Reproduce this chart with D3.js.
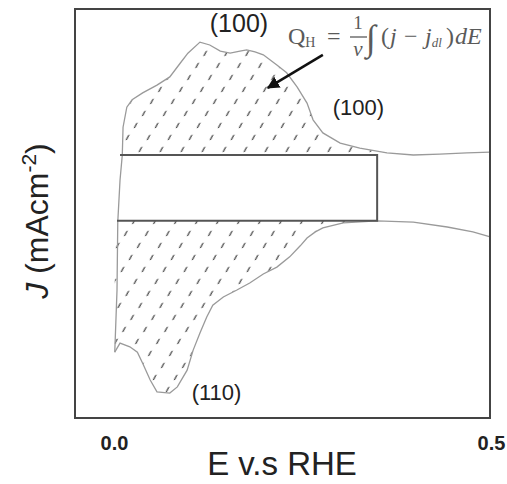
<!DOCTYPE html>
<html>
<head>
<meta charset="utf-8">
<title>CV - hydrogen region</title>
<script src="https://d3js.org/d3.v7.min.js"></script>
<style>
  body { margin:0; background:#fff; }
  text { font-family: "Liberation Sans", Arial, sans-serif; }
  .formula text { font-family: "Liberation Serif", "Times New Roman", serif; fill:#5a5a5a; }
</style>
</head>
<body>
<svg id="cv" width="507" height="484"></svg>
<script>
// anodic sweep (E in V vs RHE, J arbitrary)
const E_anodic = [0.001,0.004,0.005,0.008,0.011,0.012,0.017,0.024,0.038,0.057,0.074,0.088,0.098,0.114,0.127,0.141,0.154,0.167,0.176,0.187,0.198,0.216,0.229,0.243,0.256,0.264,0.277,0.300,0.326,0.362,0.397,0.432,0.468,0.499];
const J_anodic = [-0.339,-0.187,-0.021,0.082,0.143,0.211,0.260,0.278,0.295,0.314,0.334,0.368,0.392,0.419,0.412,0.397,0.392,0.397,0.400,0.395,0.388,0.363,0.344,0.309,0.270,0.229,0.197,0.172,0.160,0.148,0.143,0.145,0.148,0.150];

// cathodic sweep
const E_cathodic = [0.001,0.008,0.021,0.031,0.038,0.048,0.057,0.074,0.084,0.097,0.105,0.114,0.123,0.131,0.145,0.163,0.180,0.198,0.216,0.233,0.247,0.256,0.267,0.277,0.304,0.349,0.397,0.442,0.476,0.499];
const J_cathodic = [-0.339,-0.317,-0.326,-0.339,-0.366,-0.407,-0.436,-0.439,-0.424,-0.383,-0.334,-0.292,-0.253,-0.224,-0.204,-0.187,-0.170,-0.148,-0.131,-0.106,-0.079,-0.060,-0.045,-0.035,-0.023,-0.018,-0.021,-0.033,-0.045,-0.057];

// double layer box
const dlE = [0.008, 0.349];
const dlJ = [0.143, -0.018];

const xTicks = [0.0, 0.5];
const peakLabels = ['(100)', '(100)', '(110)'];

const anodic = E_anodic.map((e, i) => ({E: e, J: J_anodic[i]}));
const cathodic = E_cathodic.map((e, i) => ({E: e, J: J_cathodic[i]}));

const svg = d3.select('#cv');
const frame = {left: 75, top: 9, right: 490, bottom: 418};

const x = d3.scaleLinear().domain([0, 0.5]).range([114, 491]);
const y = d3.scaleLinear().domain([-0.5, 0.5]).range([frame.bottom, frame.top]);

const defs = svg.append('defs');
// short slanted dashes on a skewed lattice
defs.append('pattern')
  .attr('id', 'hatch')
  .attr('width', 21).attr('height', 12)
  .attr('patternUnits', 'userSpaceOnUse')
  .attr('patternTransform', 'skewX(-34)')
  .append('line')
  .attr('x1', 10.6).attr('y1', 7.5)
  .attr('x2', 10.0).attr('y2', 3.5)
  .attr('stroke', '#555').attr('stroke-width', 1.5).attr('stroke-linecap', 'round');

defs.append('clipPath').attr('id', 'dlclip')
  .append('rect')
  .attr('x', x(0) - 5).attr('y', frame.top)
  .attr('width', x(dlE[1]) - x(0) + 5).attr('height', frame.bottom - frame.top);

defs.append('marker')
  .attr('id', 'arrow')
  .attr('viewBox', '0 0 10 10')
  .attr('refX', 9).attr('refY', 5)
  .attr('markerWidth', 5).attr('markerHeight', 5)
  .attr('orient', 'auto')
  .append('path').attr('d', 'M0,0L10,5L0,10z').attr('fill', '#111');

// hatched charge areas
const upperArea = d3.area()
  .x(d => x(d.E))
  .y0(y(dlJ[0]))
  .y1(d => y(Math.max(d.J, dlJ[0])));
const lowerArea = d3.area()
  .x(d => x(d.E))
  .y0(y(dlJ[1]))
  .y1(d => y(Math.min(d.J, dlJ[1])));

const hatchG = svg.append('g').attr('clip-path', 'url(#dlclip)');
hatchG.append('path').attr('d', upperArea(anodic)).attr('fill', 'url(#hatch)');
hatchG.append('path').attr('d', lowerArea(cathodic)).attr('fill', 'url(#hatch)');

// the voltammogram
const line = d3.line().x(d => x(d.E)).y(d => y(d.J));
[anodic, cathodic].forEach(s => {
  svg.append('path')
    .attr('d', line(s))
    .attr('fill', 'none')
    .attr('stroke', '#9a9a9a')
    .attr('stroke-width', 1.3);
});

// double layer rectangle (top, right, bottom)
svg.append('path')
  .attr('d', `M${x(dlE[0])},${y(dlJ[0])}H${x(dlE[1])}V${y(dlJ[1])}H${x(0.004)}`)
  .attr('fill', 'none')
  .attr('stroke', '#555')
  .attr('stroke-width', 2);

// frame
svg.append('rect')
  .attr('x', frame.left).attr('y', frame.top)
  .attr('width', frame.right - frame.left)
  .attr('height', frame.bottom - frame.top)
  .attr('fill', 'none')
  .attr('stroke', '#444')
  .attr('stroke-width', 2);

// x axis ticks only
const xAxis = svg.append('g')
  .attr('transform', `translate(0,${frame.bottom})`)
  .call(d3.axisBottom(x).tickValues(xTicks).tickFormat(d3.format('.1f')).tickSize(0).tickPadding(18));
xAxis.select('.domain').remove();
xAxis.selectAll('text')
  .attr('font-size', 20)
  .attr('font-weight', 'bold')
  .attr('font-family', '"Liberation Sans", Arial, sans-serif')
  .attr('fill', '#222');

svg.append('text')
  .attr('x', 282).attr('y', 475)
  .attr('text-anchor', 'middle')
  .attr('font-size', 33)
  .attr('fill', '#222')
  .text('E v.s RHE');

const yt = svg.append('text')
  .attr('transform', 'translate(48,221) rotate(-90)')
  .attr('text-anchor', 'middle')
  .attr('font-size', 32)
  .attr('fill', '#222');
yt.append('tspan').attr('font-style', 'italic').text('J');
yt.append('tspan').text(' (mAcm');
yt.append('tspan').attr('font-size', 21).attr('dy', -12).text('-2');
yt.append('tspan').attr('dy', 12).text(')');

// peak labels
const labelPos = [[0.127, 0.444, 25], [0.290, 0.242, 22], [0.103, -0.457, 22]];
svg.selectAll('.peak')
  .data(peakLabels)
  .enter()
  .append('text')
  .attr('class', 'peak')
  .attr('x', (d, i) => x(labelPos[i][0]))
  .attr('y', (d, i) => y(labelPos[i][1]))
  .attr('font-size', (d, i) => labelPos[i][2])
  .attr('fill', '#222')
  .text(d => d);

// arrow into the charge area
svg.append('line')
  .attr('x1', x(0.277)).attr('y1', y(0.388))
  .attr('x2', x(0.204)).attr('y2', y(0.307))
  .attr('stroke', '#111')
  .attr('stroke-width', 2.5)
  .attr('marker-end', 'url(#arrow)');

// Q_H formula
const f = svg.append('g').attr('class', 'formula');
const q = f.append('text').attr('x', 288).attr('y', 44).attr('font-size', 24);
q.append('tspan').text('Q');
q.append('tspan').attr('font-size', 14).attr('dy', 3).text('H');
f.append('text').attr('x', 327).attr('y', 44).attr('font-size', 24).text('=');
f.append('text').attr('x', 358).attr('y', 29).attr('text-anchor', 'middle').attr('font-size', 19).text('1');
f.append('line').attr('x1', 350).attr('x2', 367).attr('y1', 37).attr('y2', 37).attr('stroke', '#5a5a5a').attr('stroke-width', 1.3);
f.append('text').attr('x', 358).attr('y', 56).attr('text-anchor', 'middle').attr('font-size', 21).attr('font-style', 'italic').text('ν');
f.append('text').attr('x', 366).attr('y', 50).attr('font-size', 36).text('∫');
const r = f.append('text').attr('y', 44).attr('font-size', 24);
r.append('tspan').attr('x', 381).text('(');
r.append('tspan').attr('x', 390).attr('font-style', 'italic').text('j');
r.append('tspan').attr('x', 404).text('−');
r.append('tspan').attr('x', 425).attr('font-style', 'italic').text('j');
r.append('tspan').attr('font-style', 'italic').attr('font-size', 13).attr('dy', 3).text('dl');
r.append('tspan').attr('x', 446).attr('dy', -3).text(')');
r.append('tspan').attr('x', 455).attr('font-style', 'italic').text('dE');
</script>
</body>
</html>
